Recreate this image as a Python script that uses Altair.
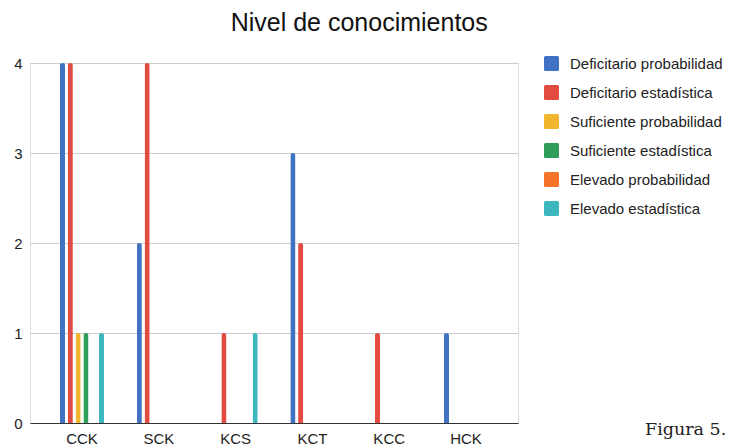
import altair as alt
import pandas as pd

# Categories and series (counts per knowledge domain)
categories = ["CCK", "SCK", "KCS", "KCT", "KCC", "HCK"]
series_names = [
    "Deficitario probabilidad",
    "Deficitario estadística",
    "Suficiente probabilidad",
    "Suficiente estadística",
    "Elevado probabilidad",
    "Elevado estadística",
]
deficitario_probabilidad = [4, 2, 0, 3, 0, 1]
deficitario_estadistica = [4, 4, 1, 2, 1, 0]
suficiente_probabilidad = [1, 0, 0, 0, 0, 0]
suficiente_estadistica = [1, 0, 0, 0, 0, 0]
elevado_probabilidad = [0, 0, 0, 0, 0, 0]
elevado_estadistica = [1, 0, 1, 0, 0, 0]
series_colors = ["#3F72C3", "#E24B3F", "#F1B62E", "#2E9E5A", "#F5732A", "#3DB7BE"]

all_values = [
    deficitario_probabilidad,
    deficitario_estadistica,
    suficiente_probabilidad,
    suficiente_estadistica,
    elevado_probabilidad,
    elevado_estadistica,
]
rows = []
for name, vals in zip(series_names, all_values):
    for cat, v in zip(categories, vals):
        rows.append({"categoria": cat, "serie": name, "valor": v})
df = pd.DataFrame(rows)

FONT = "Liberation Sans"
# rounded square used as legend swatch (unit box -1..1)
ROUNDED_SQUARE = (
    "M -0.8,-1 H 0.8 Q 1,-1 1,-0.8 V 0.8 Q 1,1 0.8,1 "
    "H -0.8 Q -1,1 -1,0.8 V -0.8 Q -1,-1 -0.8,-1 Z"
)

bars = (
    alt.Chart(df)
    .transform_filter("datum.valor > 0")
    .mark_bar(cornerRadiusEnd=2.5)
    .encode(
        x=alt.X(
            "categoria:N",
            sort=categories,
            scale=alt.Scale(domain=categories, paddingInner=0.39, paddingOuter=0.372),
            axis=alt.Axis(
                title=None,
                labelAngle=0,
                ticks=False,
                labelPadding=8,
                labelFontSize=15,
                labelColor="#222222",
                labelFont=FONT,
                domainColor="#333333",
                domainWidth=1,
                grid=False,
            ),
        ),
        xOffset=alt.XOffset(
            "serie:N",
            scale=alt.Scale(domain=series_names, paddingInner=0.34, paddingOuter=0.17),
        ),
        y=alt.Y(
            "valor:Q",
            scale=alt.Scale(domain=[0, 4], nice=False),
            axis=alt.Axis(
                title=None,
                values=[0, 1, 2, 3, 4],
                format="d",
                ticks=False,
                domain=False,
                labelPadding=8,
                labelFontSize=15,
                labelColor="#222222",
                labelFont=FONT,
                gridColor="#CCCCCC",
                gridWidth=1,
            ),
        ),
        color=alt.Color(
            "serie:N",
            scale=alt.Scale(domain=series_names, range=series_colors),
            legend=alt.Legend(
                title=None,
                orient="none",
                legendX=514,
                legendY=-7,
                symbolType=ROUNDED_SQUARE,
                symbolSize=225,
                symbolStrokeWidth=0,
                labelFontSize=15,
                labelFont=FONT,
                labelColor="#222222",
                labelOffset=11,
                labelLimit=300,
                rowPadding=13,
            ),
        ),
    )
)

caption = (
    alt.Chart(pd.DataFrame({"t": ["Figura 5."]}))
    .mark_text(
        align="left",
        baseline="alphabetic",
        font="DejaVu Serif",
        fontSize=17.5,
        color="#222222",
    )
    .encode(x=alt.value(615), y=alt.value(372), text="t:N")
)

chart = (
    alt.layer(bars, caption)
    .properties(
        width=488,
        height=360,
        title=alt.TitleParams(
            "Nivel de conocimientos",
            anchor="start",
            dx=217,
            fontSize=25,
            font=FONT,
            fontWeight="normal",
            color="#111111",
            baseline="alphabetic",
            offset=0,
        ),
        autosize=alt.AutoSizeParams(type="none"),
        padding={"left": 30, "top": 63, "right": 211, "bottom": 21},
    )
    .configure_view(stroke=None)
    .configure(background="white")
)

chart.save("out.html", embed_options={"renderer": "svg", "actions": False})
